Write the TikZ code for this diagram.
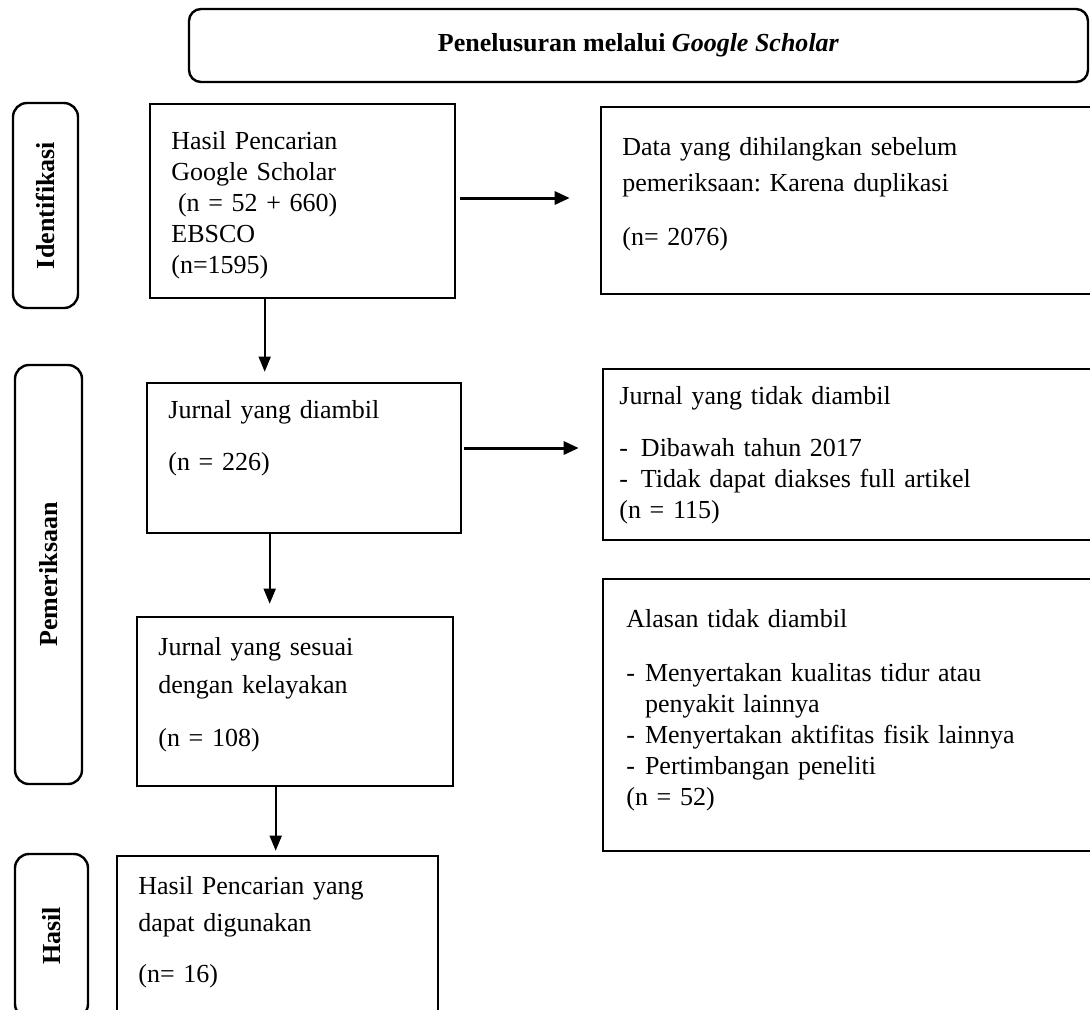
\documentclass[tikz,border=0pt]{standalone}
\usepackage{fontspec}
\setmainfont{Liberation Serif}
\usetikzlibrary{calc}
\usetikzlibrary{arrows.meta}
\frenchspacing

\newcommand{\bul}[1][10.8pt]{\makebox[#1][l]{-}}

\begin{document}
\begin{tikzpicture}[x=0.5pt, y=-0.5pt,
  every node/.style={font=\fontsize{13}{15.5}\selectfont},
  box/.style={draw, line width=1.3pt, inner sep=0pt},
  side/.style={draw, line width=1.2pt, rounded corners=7pt, inner sep=0pt,
    font=\fontsize{13}{15.5}\selectfont\bfseries},
  txt/.style={anchor=base west, inner sep=0pt, text width=260pt, align=left},
  harr/.style={line width=1.5pt, -{Triangle[length=7.5pt, width=6.5pt]}},
  varr/.style={line width=0.8pt, -{Triangle[length=7.5pt, width=6pt]}}]
  \useasboundingbox (0,0) rectangle (1090,1009);
  \clip (0,0) rectangle (1090,1009);

  % title and stage labels
  \node [side, rounded corners=6pt, minimum width=449.5pt, minimum height=36.5pt] (title) at (638.5,45.5)
    {Penelusuran melalui \textit{Google Scholar}};
  \node [side, rotate=90, minimum width=102.5pt, minimum height=32.5pt] (idf) at (45.5,205.5) {Identifikasi};
  \node [side, rotate=90, minimum width=209.5pt, minimum height=33.5pt] (pem) at (48.5,574.5) {Pemeriksaan};
  \node [side, rotate=90, minimum width=82pt, minimum height=36.5pt] (hsl) at (51.5,936) {Hasil};

  % left column
  \node [box, minimum width=152.5pt, minimum height=97pt] (b1) at (302.5,201) {};
  \node [txt] (t1) at (171,149) {Hasil Pencarian\\Google Scholar\\\hspace*{3.3pt}(n = 52 + 660)\\EBSCO\\(n=1595)};
  \node [box, minimum width=157pt, minimum height=75pt] (b2) at (304,458) {};
  \node [txt] (t2) at (168,418) {Jurnal yang diambil\\[10.5pt](n = 226)};
  \node [box, minimum width=158pt, minimum height=84.5pt] (b3) at (295,701.5) {};
  \node [txt] (t3) at (158,655) {Jurnal yang sesuai\\[3.5pt]dengan kelayakan\\[11pt](n = 108)};
  \node [box, minimum width=160.5pt, minimum height=87pt] (b4) at (277.5,943) {};
  \node [txt] (t4) at (138,894) {Hasil Pencarian yang\\[3pt]dapat digunakan\\[10pt](n= 16)};

  % right column
  \node [box, minimum width=249.5pt, minimum height=93.5pt] (r1) at (850.5,200.5) {};
  \node [txt] (s1) at (622,155) {Data yang dihilangkan sebelum\\[2.5pt]pemeriksaan: Karena duplikasi\\[11.5pt](n= 2076)};
  \node [box, minimum width=248.5pt, minimum height=85.5pt] (r2) at (851.5,454.5) {};
  \node [txt] (s2) at (619,404) {Jurnal yang tidak diambil\\[10.5pt]\bul Dibawah tahun 2017\\\bul Tidak dapat diakses full artikel\\(n = 115)};
  \node [box, minimum width=248.5pt, minimum height=136pt] (r3) at (851.5,715) {};
  \node [txt] (s3) at (626,627) {Alasan tidak diambil\\[11.5pt]\bul[9.3pt]Menyertakan kualitas tidur atau\\\hspace*{9.3pt}penyakit lainnya\\\bul[9.3pt]Menyertakan aktifitas fisik lainnya\\\bul[9.3pt]Pertimbangan peneliti\\(n = 52)};

  % arrows
  \draw [varr] ($ (b1.south west)+(116,0) $) -- ($ (b2.north west)+(119,-10) $);
  \draw [varr] ($ (b2.south west)+(124,0) $) -- ($ (b3.north west)+(134,-12) $);
  \draw [varr] ($ (b3.south west)+(140,0) $) -- ($ (b4.north west)+(160,-4) $);
  \draw [harr] ($ (b1.east)+(4,-3) $) -- ($ (r1.west)+(-30,-2.5) $);
  \draw [harr] ($ (b2.east)+(2,-10) $) -- ($ (r2.west)+(-23,-6.5) $);
\end{tikzpicture}
\end{document}
